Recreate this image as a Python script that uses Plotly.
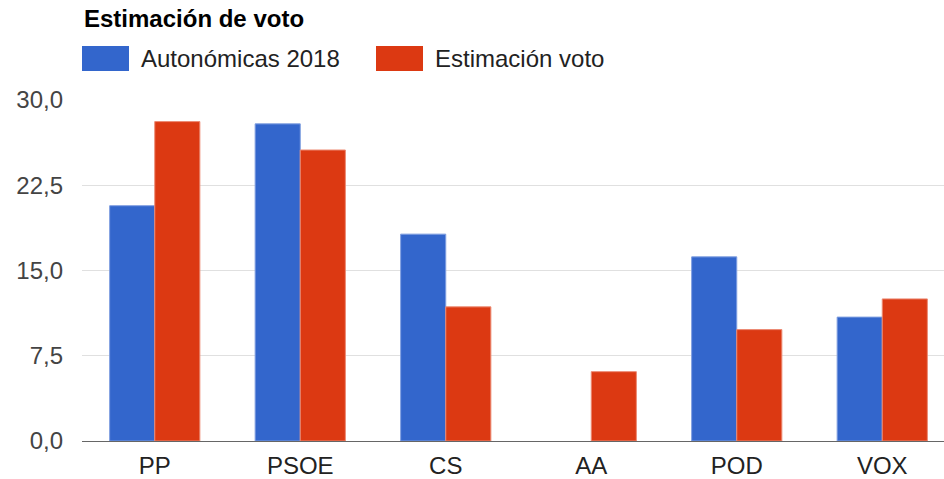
import plotly.graph_objects as go

categories = ["PP", "PSOE", "CS", "AA", "POD", "VOX"]
autonomicas_2018 = [20.7, 27.9, 18.2, None, 16.2, 10.9]
estimacion_voto = [28.1, 25.6, 11.8, 6.1, 9.8, 12.5]
series_names = ["Autonómicas 2018", "Estimación voto"]
tick_values = [0, 7.5, 15, 22.5, 30]

BLUE = "#3366cc"
RED = "#dc3912"
FONT = "Liberation Sans, Arial, sans-serif"
FS = 24

# body margin is removed below, so figure pixels equal screen pixels
OFF = 0
W, H = 955, 479
ml, mr, mt, mb = 82, 0, 100, 479 - 441

fig = go.Figure()
fig.add_trace(go.Bar(x=categories, y=autonomicas_2018, name=series_names[0],
                     marker=dict(color=BLUE, line=dict(color="#7f9ee0", width=1))))
fig.add_trace(go.Bar(x=categories, y=estimacion_voto, name=series_names[1],
                     marker=dict(color=RED, line=dict(color="#ec8a73", width=1))))

fig.update_layout(
    width=W, height=H,
    margin=dict(l=ml, r=mr, t=mt, b=mb, autoexpand=False),
    paper_bgcolor="white", plot_bgcolor="white",
    barmode="group", bargap=0.38, bargroupgap=0.0,
    showlegend=False,
    separators=",.",
    font=dict(family=FONT, size=FS, color="#444"),
    xaxis=dict(showgrid=False, showline=False, ticks="", ticklabelstandoff=8,
               tickfont=dict(size=FS, color="#222")),
    yaxis=dict(range=[0, 30], tickvals=tick_values, tickformat=".1f",
               showgrid=True, gridcolor="#e0e0e0", gridwidth=1,
               zeroline=True, zerolinecolor="#666", zerolinewidth=1,
               ticks="", ticklabelstandoff=18,
               tickfont=dict(size=FS, color="#444")),
)

plot_h = H - mt - mb
plot_w = W - ml - mr
def px_x(x):
    return (x - OFF - ml) / plot_w
def px_y(y):
    return (H - mb - (y - OFF)) / plot_h

# Title
fig.add_annotation(text="<b>Estimación de voto</b>", xref="paper", yref="paper",
                   x=px_x(82), y=px_y(18), xanchor="left", yanchor="middle",
                   showarrow=False, font=dict(family=FONT, size=FS, color="#000"))

# Legend swatches + labels
legend_items = [(82, 129, 139, BLUE, series_names[0]), (376, 423, 433, RED, series_names[1])]
for x0, x1, tx, col, label in legend_items:
    fig.add_shape(type="rect", xref="paper", yref="paper",
                  x0=px_x(x0), x1=px_x(x1), y0=px_y(71), y1=px_y(46),
                  fillcolor=col, line=dict(width=0))
    fig.add_annotation(text=label, xref="paper", yref="paper",
                       x=px_x(tx), y=px_y(58.5), xanchor="left", yanchor="middle",
                       showarrow=False, font=dict(family=FONT, size=FS, color="#222"))

fig.write_html("out.html",
               config={"displayModeBar": False},
               post_script="document.body.style.margin='0';document.body.style.overflow='hidden';")
